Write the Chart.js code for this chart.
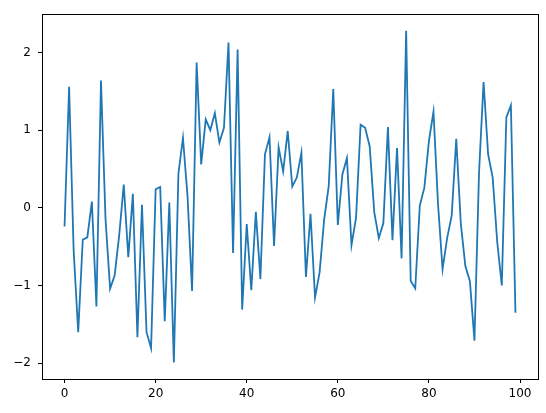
<!DOCTYPE html>
<html>
<head>
<meta charset="utf-8">
<script src="https://cdn.jsdelivr.net/npm/chart.js@4"></script>
<style>
  html, body { margin: 0; padding: 0; background: #fff; }
  #wrap { width: 546px; height: 413px; }
</style>
</head>
<body>
<div id="wrap"><canvas id="c" width="546" height="413"></canvas></div>
<script>
const values = [
  -0.24, 1.56, -0.55, -1.60, -0.41, -0.38, 0.08, -1.27, 1.64, -0.15,
  -1.04, -0.87, -0.35, 0.30, -0.635, 0.18, -1.665, 0.04, -1.60, -1.805,
  0.24, 0.27, -1.46, 0.07, -1.99, 0.44, 0.90, 0.15, -1.07, 1.87,
  0.56, 1.14, 1.00, 1.22, 0.84, 1.03, 2.13, -0.58, 2.04, -1.31,
  -0.21, -1.06, -0.05, -0.915, 0.69, 0.91, -0.49, 0.78, 0.47, 0.99,
  0.275, 0.39, 0.71, -0.89, -0.076, -1.155, -0.83, -0.15, 0.28, 1.53,
  -0.22, 0.43, 0.64, -0.48, -0.13, 1.07, 1.03, 0.79, -0.055, -0.39,
  -0.195, 1.04, -0.415, 0.77, -0.65, 2.28, -0.94, -1.035, 0.03, 0.26,
  0.86, 1.24, 0.05, -0.79, -0.39, -0.10, 0.89, -0.20, -0.75, -0.945,
  -1.71, 0.45, 1.62, 0.69, 0.39, -0.44, -1.0, 1.165, 1.32, -1.35
];
const xIndex = values.map((v, i) => i);
const xTicks = [0, 20, 40, 60, 80, 100];
const yTicks = [-2, -1, 0, 1, 2];

const points = values.map((v, i) => ({ x: xIndex[i], y: v }));
const xMinD = Math.min(...xIndex), xMaxD = Math.max(...xIndex);
const yMinD = Math.min(...values), yMaxD = Math.max(...values);
const xm = 0.05 * (xMaxD - xMinD), ym = 0.05 * (yMaxD - yMinD);

const frame = {
  id: 'frame',
  afterDraw(chart) {
    const a = chart.chartArea, ctx = chart.ctx;
    ctx.save();
    ctx.strokeStyle = '#000';
    ctx.lineWidth = 1;
    ctx.strokeRect(Math.round(a.left) + 0.5, Math.round(a.top) + 0.5,
                   Math.round(a.right - a.left), Math.round(a.bottom - a.top));
    ctx.restore();
  }
};

const tickFont = { family: 'DejaVu Sans', size: 12 };
const fmt = v => (v < 0 ? '\u2212' + Math.abs(v) : String(v));

new Chart(document.getElementById('c'), {
  type: 'line',
  data: {
    datasets: [{
      data: points,
      borderColor: '#1f77b4',
      borderWidth: 1.8,
      pointRadius: 0,
      tension: 0,
      fill: false
    }]
  },
  options: {
    responsive: false,
    animation: false,
    devicePixelRatio: 1,
    layout: { padding: { top: 10, right: 8, left: 0, bottom: 0 } },
    plugins: { legend: { display: false }, tooltip: { enabled: false } },
    scales: {
      x: {
        type: 'linear',
        min: xMinD - xm,
        max: xMaxD + xm,
        afterBuildTicks: s => { s.ticks = xTicks.map(v => ({ value: v })); },
        afterFit: s => { s.height = 34; },
        border: { display: false },
        grid: { drawOnChartArea: false, drawTicks: true, tickLength: 4, color: '#000', lineWidth: 1 },
        ticks: { color: '#000', font: tickFont, padding: 4, maxRotation: 0, callback: fmt }
      },
      y: {
        type: 'linear',
        min: yMinD - ym,
        max: yMaxD + ym,
        afterBuildTicks: s => { s.ticks = yTicks.map(v => ({ value: v })); },
        afterFit: s => { s.width = 42; },
        border: { display: false },
        grid: { drawOnChartArea: false, drawTicks: true, tickLength: 4, color: '#000', lineWidth: 1 },
        ticks: { color: '#000', font: tickFont, padding: 7, callback: fmt }
      }
    }
  },
  plugins: [frame]
});
</script>
</body>
</html>
